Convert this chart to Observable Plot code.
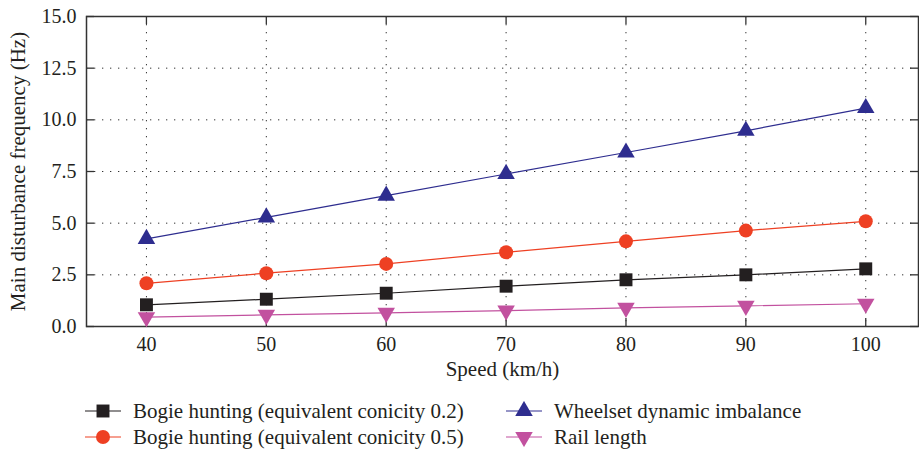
<!DOCTYPE html>
<html><head><meta charset="utf-8">
<script src="https://cdn.jsdelivr.net/npm/d3@7"></script>
<script src="https://cdn.jsdelivr.net/npm/@observablehq/plot@0.6"></script>
<style>
body{margin:0;background:#fff;}
#legend{position:relative;width:919px;height:68px;font-family:"Liberation Serif","Times New Roman",serif;font-size:21px;color:#231f20;}
.item{position:absolute;display:flex;align-items:center;white-space:nowrap;height:24px;}
.item svg{display:block;margin-right:12px;}
</style></head><body>
<div id="chart"></div>
<div id="legend"></div>
<script>
// ---- data ----
const speeds = [40, 50, 60, 70, 80, 90, 100];
const conicity02 = [1.05, 1.32, 1.61, 1.95, 2.26, 2.50, 2.79];
const conicity05 = [2.09, 2.58, 3.03, 3.59, 4.12, 4.64, 5.09];
const wheelset = [4.24, 5.28, 6.33, 7.38, 8.42, 9.47, 10.57];
const railLength = [0.45, 0.56, 0.66, 0.77, 0.90, 1.00, 1.10];
const seriesNames = [
  "Bogie hunting (equivalent conicity 0.2)",
  "Bogie hunting (equivalent conicity 0.5)",
  "Wheelset dynamic imbalance",
  "Rail length"
];
const xTicks = [40, 50, 60, 70, 80, 90, 100];
const yTicks = [0, 2.5, 5, 7.5, 10, 12.5, 15];
const xLabel = "Speed (km/h)";
const yLabel = "Main disturbance frequency (Hz)";

// ---- styles ----
const seriesValues = [conicity02, conicity05, wheelset, railLength];
const styles = [
  {color: "#231f20", symbol: "square", r: 7.3, rotate: 0},
  {color: "#ee4023", symbol: "circle", r: 7, rotate: 0},
  {color: "#2e2d8f", symbol: "triangle", r: 6.5, rotate: 0},
  {color: "#c2519f", symbol: "triangle", r: 6.5, rotate: 180}
];

const rows = seriesNames.flatMap((name, i) =>
  speeds.map((s, j) => ({series: name, idx: i, speed: s, value: seriesValues[i][j]})));

const W = 919, H = 385;
const mL = 86, mR = 1, mT = 16, mB = 59;
const innerH = H - mT - mB, innerW = W - mL - mR;
const tickLen = 8;

const marks = [
  Plot.gridX(xTicks, {stroke: "#333", strokeOpacity: 1, strokeDasharray: "1.3,6.7"}),
  Plot.gridY(yTicks.slice(1, -1), {stroke: "#333", strokeOpacity: 1, strokeDasharray: "1.3,6.7"}),
  Plot.tickX(xTicks, {x: d => d, insetTop: innerH - tickLen, stroke: "#333", strokeWidth: 1.3}),
  Plot.tickX(xTicks, {x: d => d, insetBottom: innerH - tickLen, stroke: "#333", strokeWidth: 1.3}),
  Plot.tickY(yTicks, {y: d => d, insetRight: innerW - tickLen, stroke: "#333", strokeWidth: 1.3}),
  Plot.tickY(yTicks, {y: d => d, insetLeft: innerW - tickLen, stroke: "#333", strokeWidth: 1.3}),
  Plot.frame({stroke: "#333", strokeWidth: 1.5}),
  Plot.axisX(xTicks, {tickSize: 0, tickPadding: 10, label: null}),
  Plot.axisY(yTicks, {tickSize: 0, tickPadding: 10, tickFormat: d => d.toFixed(1), label: null}),
  Plot.text([xLabel], {text: d => d, frameAnchor: "bottom", lineAnchor: "middle", textAnchor: "middle", dy: 43, fontSize: 21}),
  Plot.text([yLabel], {text: d => d, frameAnchor: "left", lineAnchor: "middle", textAnchor: "middle", dx: -68, rotate: -90, fontSize: 21})
];
styles.forEach((st, i) => {
  const d = rows.filter(r => r.idx === i);
  marks.push(Plot.line(d, {x: "speed", y: "value", stroke: st.color, strokeWidth: 1.2}));
});
styles.forEach((st, i) => {
  const d = rows.filter(r => r.idx === i);
  marks.push(Plot.dot(d, {x: "speed", y: "value", fill: st.color, symbol: st.symbol, r: st.r, rotate: st.rotate, stroke: "none"}));
});

const chart = Plot.plot({
  width: W, height: H,
  marginLeft: mL, marginRight: mR, marginTop: mT, marginBottom: mB,
  x: {domain: [35, 104.4]},
  y: {domain: [0, 15]},
  style: {fontFamily: "'Liberation Serif', 'Times New Roman', serif", fontSize: "20px", color: "#231f20", background: "#fff"},
  marks
});
document.getElementById("chart").appendChild(chart);

// ---- legend ----
const legend = document.getElementById("legend");
const pos = [
  {left: 85, top: 14}, {left: 85, top: 40},
  {left: 506, top: 14}, {left: 506, top: 40}
];
seriesNames.forEach((name, i) => {
  const st = styles[i];
  const item = document.createElement("div");
  item.className = "item";
  item.style.left = pos[i].left + "px";
  item.style.top = pos[i].top + "px";
  const svg = d3.create("svg").attr("width", 36).attr("height", 20);
  svg.append("line").attr("x1", 0).attr("x2", 36).attr("y1", 10).attr("y2", 10)
    .attr("stroke", st.color).attr("stroke-width", 1.2);
  const sym = {square: d3.symbolSquare, circle: d3.symbolCircle, triangle: d3.symbolTriangle}[st.symbol];
  svg.append("path").attr("d", d3.symbol(sym, st.r * st.r * Math.PI)())
    .attr("transform", `translate(18,10) rotate(${st.rotate})`).attr("fill", st.color);
  item.appendChild(svg.node());
  const span = document.createElement("span");
  span.textContent = name;
  item.appendChild(span);
  legend.appendChild(item);
});
</script>
</body></html>
